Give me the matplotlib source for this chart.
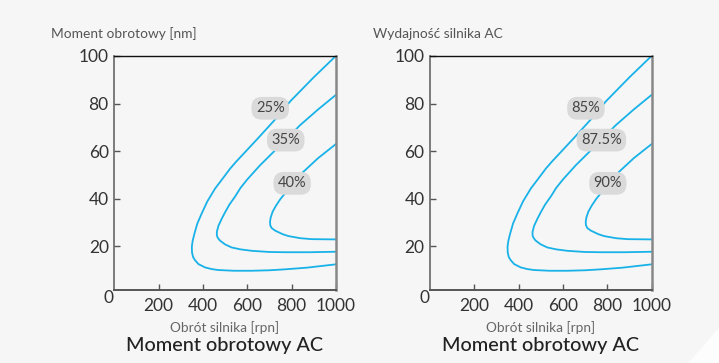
import matplotlib
matplotlib.use("Agg")
import matplotlib.pyplot as plt
from matplotlib.patches import Polygon

plt.rcParams['font.family'] = ['Lato', 'DejaVu Sans']

# ---- data ----
x_ticks = [200, 400, 600, 800, 1000]
y_ticks = [20, 40, 60, 80, 100]

c1_x = [1000, 900, 795, 733, 650, 590, 550, 523, 490, 455, 420, 395, 375, 362, 354, 350, 351, 356, 364, 380, 410, 440, 470, 540, 620, 700, 771, 869, 1000]
c1_y = [100, 91, 81, 74, 65.5, 59.5, 55.5, 52.6, 48.5, 44.2, 38.8, 33.8, 29.5, 25.3, 22.3, 19.7, 17.2, 15.3, 14.1, 12.4, 11.0, 10.3, 9.9, 9.6, 9.6, 9.8, 10.2, 10.9, 12.3]

c2_x = [1000, 920, 839, 750, 658, 600, 570, 545, 520, 500, 485, 470, 463, 463, 467, 477, 500, 530, 570, 620, 700, 771, 880, 1000]
c2_y = [83.6, 77.5, 70.9, 62.5, 54.0, 48.0, 44.5, 40.8, 37.5, 34.2, 31.5, 28.5, 26.0, 24.5, 23.5, 22.3, 20.7, 19.4, 18.6, 18.0, 17.5, 17.4, 17.4, 17.6]

c3_x = [1000, 920, 846, 794, 771, 750, 730, 715, 706, 703, 704, 710, 726, 760, 786, 840, 892, 1000]
c3_y = [62.9, 57.0, 50.6, 45.7, 42.2, 39.8, 37.0, 34.5, 32.0, 30.2, 28.8, 27.6, 26.5, 25.0, 24.2, 23.3, 22.9, 22.8]

left_labels = ['25%', '35%', '40%']
right_labels = ['85%', '87.5%', '90%']
label_x = [704, 774, 803]
label_y = [78, 64.6, 46.4]

left_ylabel = 'Moment obrotowy [nm]'
right_ylabel = 'Wydajność silnika AC'
xlabel = 'Obrót silnika [rpn]'
title = 'Moment obrotowy AC'

# ---- styles ----
BG = '#f6f6f6'
LINE = '#18b2e8'
W, H = 719, 363

fig = plt.figure(figsize=(W / 100, H / 100), dpi=100, facecolor=BG)

# lighter corner at bottom-right
fig.patches.append(Polygon([(1, 1 - 328 / H), (1, 0), (688 / W, 0)], closed=True,
                           transform=fig.transFigure, facecolor='#fdfdfd', edgecolor='none', zorder=0))


def make_panel(left_px, labels):
    ax = fig.add_axes([left_px / W, 1 - 290 / H, 221.5 / W, 234 / H])
    ax.set_facecolor(BG)
    for cx, cy in [(c1_x, c1_y), (c2_x, c2_y), (c3_x, c3_y)]:
        ax.plot(cx, cy, color=LINE, lw=1.3, solid_capstyle='round', solid_joinstyle='round')
    for txt, lx, ly in zip(labels, label_x, label_y):
        ax.text(lx, ly, txt, ha='center', va='center', fontsize=10.5, color='#444444',
                bbox=dict(boxstyle='round,pad=0.3,rounding_size=0.7', fc='#dadada', ec='none'))
    ax.set_xlim(0, 1000)
    ax.set_ylim(1.5, 100)
    ax.set_xticks(x_ticks)
    ax.set_yticks(y_ticks)
    ax.tick_params(axis='both', direction='in', length=4, width=1, color='#555555',
                   labelsize=12.5, labelcolor='#333333', pad=4)
    ax.tick_params(axis='x', pad=6)
    ax.spines['top'].set_color('#111111')
    ax.spines['top'].set_linewidth(1.0)
    ax.spines['right'].set_color('#888888')
    ax.spines['right'].set_linewidth(1.8)
    ax.spines['left'].set_color('#666666')
    ax.spines['left'].set_linewidth(1.2)
    ax.spines['bottom'].set_color('#555555')
    ax.spines['bottom'].set_linewidth(1.4)
    ax.set_xlabel(xlabel, fontsize=9.8, color='#666666', labelpad=5)
    # origin "0"
    ax.text(-0.027, -0.035, '0', transform=ax.transAxes, ha='center', va='center',
            fontsize=12.5, color='#333333')
    return ax


axL = make_panel(114.3, left_labels)
axR = make_panel(430, right_labels)

fig.text(51 / W, 1 - 34 / H, left_ylabel, ha='left', va='center', fontsize=9.9, color='#555555')
fig.text(373 / W, 1 - 34 / H, right_ylabel, ha='left', va='center', fontsize=9.9, color='#555555')

fig.text(225 / W, 1 - 345 / H, title, ha='center', va='center', fontsize=14.3, color='#222222', fontweight='medium')
fig.text(541 / W, 1 - 345 / H, title, ha='center', va='center', fontsize=14.3, color='#222222', fontweight='medium')

fig.savefig('out.png', dpi=100, facecolor=BG)
